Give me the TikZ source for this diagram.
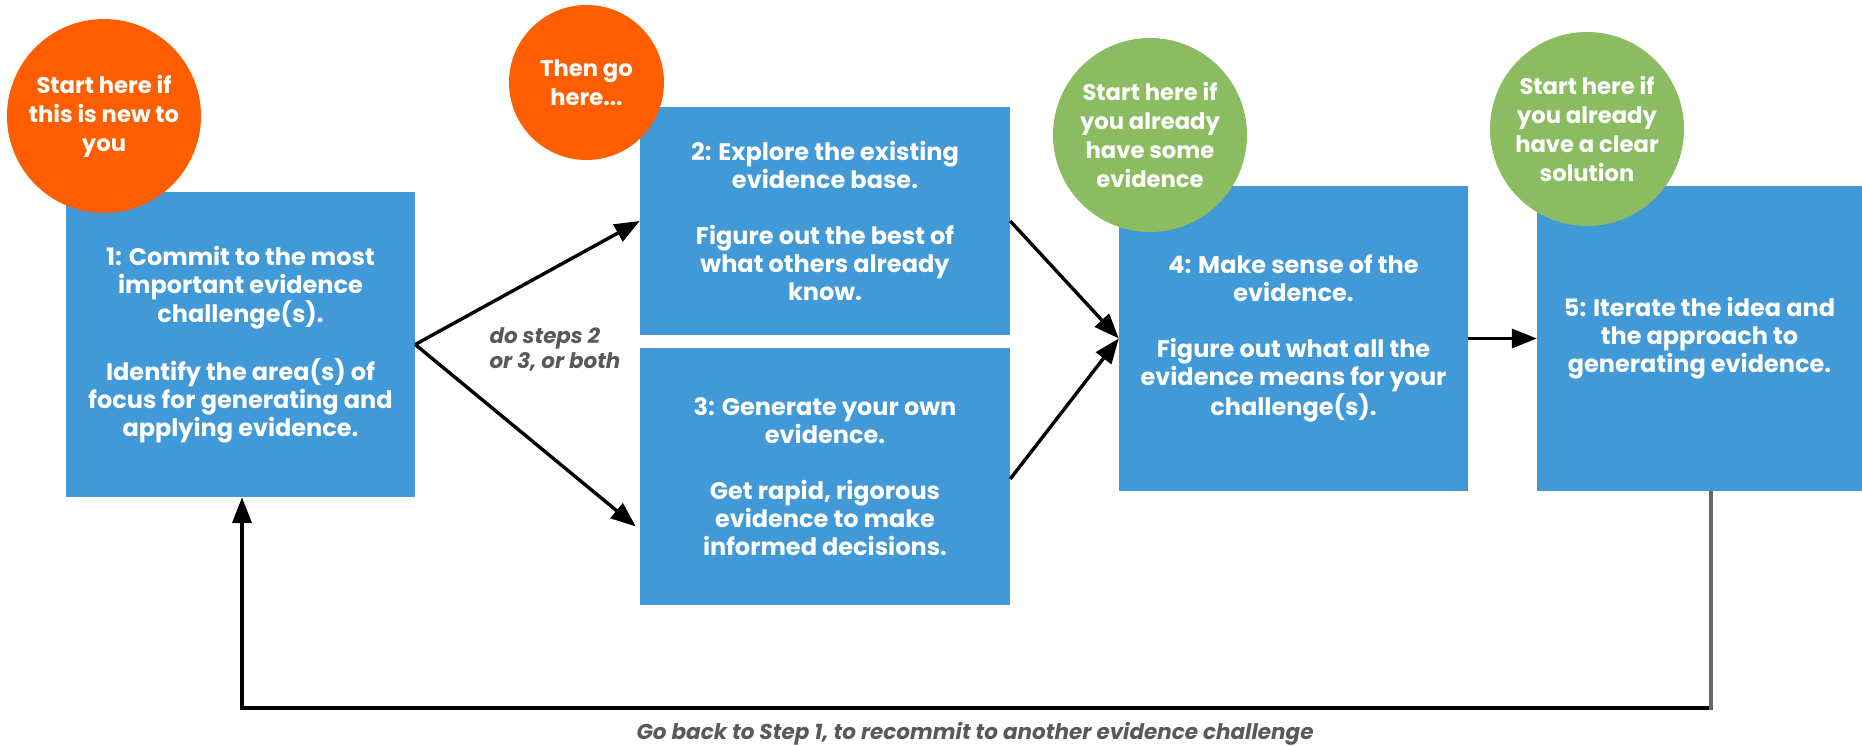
\documentclass[tikz,border=0pt]{standalone}
\usepackage{fontspec}
\setmainfont{Poppins}
\usetikzlibrary{arrows.meta}
\definecolor{boxblue}{RGB}{66,153,215}
\definecolor{startorange}{RGB}{255,94,0}
\definecolor{startgreen}{RGB}{139,188,97}
\definecolor{notegrey}{RGB}{89,89,89}
\definecolor{linegrey}{RGB}{102,102,102}
\tikzset{
  x=1pt, y=-1pt,
  stepbox/.style={rectangle, fill=boxblue, inner sep=0pt, text=white, align=center,
    font=\fontsize{24}{28}\selectfont\bfseries},
  badge/.style={circle, inner sep=0pt, text=white, align=center,
    font=\fontsize{22.7}{29}\selectfont\bfseries},
  orangebadge/.style={badge, fill=startorange},
  greenbadge/.style={badge, fill=startgreen},
  flow/.style={line width=3.4pt, -{Triangle[length=25pt,width=19pt]}},
  note/.style={text=notegrey, font=\fontsize{21.4}{25}\selectfont\bfseries\itshape},
}
\begin{document}
\begin{tikzpicture}
\useasboundingbox (0,0) rectangle (1862,746);

% step boxes
\node[stepbox, minimum width=349pt, minimum height=305pt] (b1) at (240.5,344.5)
  {1: Commit to the most\\ important evidence\\ challenge(s).\\[28pt]
   Identify the area(s) of\\ focus for generating and\\ applying evidence.};
\node[stepbox, minimum width=370pt, minimum height=228pt] (b2) at (825,221)
  {2: Explore the existing\\ evidence base.\\[28pt]
   Figure out the best of\\ what others already\\ know.};
\node[stepbox, minimum width=370pt, minimum height=257pt] (b3) at (825,476.5)
  {3: Generate your own\\ evidence.\\[28pt]
   Get rapid, rigorous\\ evidence to make\\ informed decisions.};
\node[stepbox, minimum width=349pt, minimum height=305pt] (b4) at (1293.5,338.5)
  {4: Make sense of the\\ evidence.\\[28pt]
   Figure out what all the\\ evidence means for your\\ challenge(s).};
\node[stepbox, minimum width=325pt, minimum height=305pt] (b5) at (1699.5,338.5)
  {5: Iterate the idea and\\ the approach to\\ generating evidence.};

% starting-point badges
\node[orangebadge, minimum size=194pt] (s1) at (104,116)
  {Start here if\\ this is new to\\ you};
\node[orangebadge, minimum size=155pt] (s2) at (586.5,82.5)
  {Then go\\ here...};
\node[greenbadge, minimum size=194pt] (s4) at (1150,135)
  {Start here if\\ you already\\ have some\\ evidence};
\node[greenbadge, minimum size=194pt] (s5) at (1587,129)
  {Start here if\\ you already\\ have a clear\\ solution};

% forward flow
\draw[flow] (b1.east) -- (b2.west);
\draw[flow] (b1.east) -- ([shift={(-4,50)}]b3.west);
\draw[flow] (b2.east) -- (b4.west);
\draw[flow] ([yshift=-2.5]b3.east) -- (b4.west);
\draw[flow] (b4.east) -- (b5.west);

\node[note, anchor=west, align=left] (choice) at (486,349.5)
  {do steps 2\\ or 3, or both};

% loop back to step 1
\coordinate (loopR) at (1711,708);
\coordinate (loopL) at (242,708);
\draw[line width=4pt, -{Triangle[length=26pt,width=19pt]}]
  (b5.south -| loopR) -- (loopR) -- (loopL) -- (b1.south -| loopL);
\draw[linegrey, line width=4pt] (b5.south -| loopR) -- ([yshift=-2]loopR);

\node[note, font=\fontsize{21.5}{24}\selectfont\bfseries\itshape] (back) at (975,734)
  {Go back to Step 1, to recommit to another evidence challenge};
\end{tikzpicture}
\end{document}
